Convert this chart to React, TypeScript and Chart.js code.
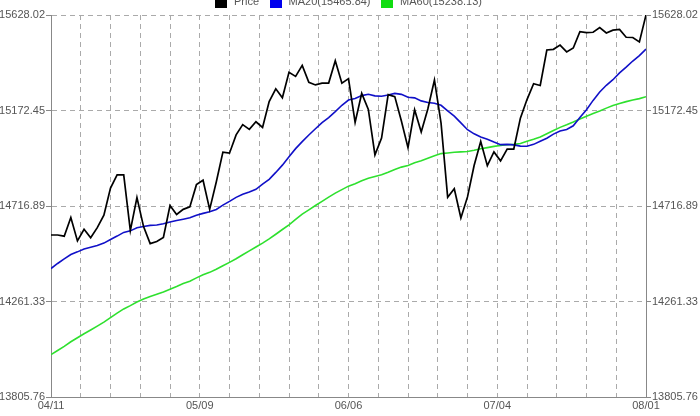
import React, { useEffect, useRef } from "react";
import { Chart, registerables } from "chart.js";

Chart.register(...registerables);

// ---------- data ----------
const xTickLabels = ["04/11", "05/09", "06/06", "07/04", "08/01"];
const yTickValues = [13805.76, 14261.33, 14716.89, 15172.45, 15628.02];
const seriesNames = ["Price", "MA20(15465.84)", "MA60(15238.13)"];

const price = [
  14578.54, 14578.54, 14572.85, 14662.01, 14550.35, 14606.11, 14565.25, 14613.48, 14673.46, 14802.24,
  14865.14, 14865.06, 14599.2, 14756.78, 14618.59, 14537.14, 14547.51, 14567.17, 14719.46, 14676.24,
  14700.8, 14712.55, 14818.75, 14839.8, 14700.95, 14831.58, 14973.96, 14968.89, 15056.2, 15105.12,
  15082.62, 15118.49, 15091.68, 15215.25, 15275.69, 15233.22, 15354.4, 15335.28, 15387.58, 15307.17,
  15294.5, 15303.1, 15303.1, 15409.39, 15302.8, 15324.53, 15115.57, 15254.03, 15177.54, 14960.59,
  15040.62, 15248.12, 15238.59, 15122.02, 14995.23, 15176.08, 15070.18, 15179.85, 15318.23, 15112.19,
  14758.32, 14799.4, 14659.56, 14760.31, 14910.14, 15024.49, 14909.6, 14974.96, 14932.41, 14988.55,
  14988.55, 15135.84, 15224.69, 15300.34, 15291.66, 15460.92, 15464.3, 15484.26, 15451.85, 15470.52,
  15548.54, 15543.74, 15545.55, 15567.74, 15542.24, 15555.61, 15558.83, 15521.97, 15520.59, 15499.54,
  15628.02,
];

const ma20 = [
  14418.3, 14442.7, 14465.0, 14485.4, 14498.1, 14511.9, 14520.3, 14528.6, 14539.8, 14557.1,
  14573.4, 14591.0, 14598.3, 14613.4, 14618.7, 14624.5, 14626.3, 14632.3, 14640.2, 14647.7,
  14653.8, 14660.5, 14672.8, 14681.7, 14689.3, 14700.6, 14721.0, 14738.8, 14758.0, 14773.1,
  14784.0, 14796.7, 14821.3, 14844.2, 14877.1, 14911.9, 14952.2, 14990.6, 15024.0, 15055.6,
  15085.3, 15114.8, 15139.0, 15167.4, 15197.5, 15222.2, 15229.3, 15243.5, 15249.6, 15242.4,
  15240.3, 15246.8, 15254.2, 15249.5, 15235.5, 15232.6, 15218.4, 15210.7, 15207.2, 15197.4,
  15170.6, 15145.4, 15113.2, 15080.8, 15061.1, 15046.1, 15035.8, 15021.8, 15009.5, 15010.9,
  15008.3, 15002.7, 15002.0, 15010.9, 15025.8, 15040.0, 15059.7, 15074.9, 15081.6, 15099.6,
  15139.1, 15176.4, 15220.7, 15261.1, 15292.7, 15319.3, 15351.7, 15379.1, 15408.5, 15434.1,
  15465.84,
];

const ma60 = [
  14008.2, 14027.3, 14047.1, 14069.3, 14088.6, 14107.6, 14125.5, 14143.9, 14162.9, 14184.4,
  14205.6, 14225.8, 14241.6, 14259.1, 14273.1, 14284.9, 14295.8, 14307.2, 14320.0, 14332.7,
  14346.7, 14358.4, 14374.1, 14388.4, 14400.3, 14415.1, 14431.5, 14448.1, 14465.4, 14484.1,
  14502.6, 14521.5, 14540.0, 14559.7, 14582.2, 14604.7, 14627.2, 14653.1, 14677.9, 14698.4,
  14719.1, 14739.3, 14758.9, 14778.2, 14794.9, 14811.5, 14823.5, 14837.0, 14849.1, 14857.5,
  14865.9, 14878.1, 14891.3, 14902.4, 14910.4, 14923.0, 14932.3, 14944.5, 14957.1, 14966.9,
  14969.9, 14973.5, 14975.0, 14976.6, 14982.6, 14989.6, 14995.3, 15001.4, 15005.7, 15008.8,
  15010.9, 15015.4, 15025.8, 15034.9, 15046.1, 15061.5, 15076.8, 15092.0, 15104.3, 15117.5,
  15131.6, 15145.5, 15157.6, 15169.7, 15183.8, 15195.8, 15205.6, 15214.8, 15222.5, 15229.1,
  15238.13,
];

// ---------- styling ----------
const FONT = '"Liberation Sans", Arial, Helvetica, sans-serif';
const TEXT_COLOR = "#555555";
const GRID_COLOR = "#aaaaaa";
const AXIS_COLOR = "#888888";
const GRID_DIVISIONS = 20;
const LABEL_EVERY = 5;

const legendPlugin = {
  id: "topLegend",
  afterDraw(chart: any) {
    const ctx = chart.ctx;
    const area = chart.chartArea;
    ctx.save();
    ctx.font = `11px ${FONT}`;
    ctx.textBaseline = "middle";
    const box = 12;
    const gap = 7;
    const spacing = 10.5;
    const items = chart.data.datasets.map((ds: any) => ({
      label: ds.label,
      color: ds.legendColor,
      w: ctx.measureText(ds.label).width,
    }));
    let total = 0;
    items.forEach((it: any, i: number) => {
      total += box + gap + it.w + (i < items.length - 1 ? spacing : 0);
    });
    let x = (area.left + area.right) / 2 - total / 2;
    const cy = 2;
    items.forEach((it: any) => {
      ctx.fillStyle = it.color;
      ctx.fillRect(Math.round(x), cy - box / 2, box, box);
      ctx.fillStyle = TEXT_COLOR;
      ctx.fillText(it.label, x + box + gap, cy);
      x += box + gap + it.w + spacing;
    });
    ctx.restore();
  },
};

export default function App() {
  const canvasRef = useRef<HTMLCanvasElement | null>(null);

  useEffect(() => {
    const canvas = canvasRef.current;
    if (!canvas) return;
    const n = price.length - 1;
    const toPts = (arr: number[]) => arr.map((v, i) => ({ x: i, y: v }));
    const xTicks: number[] = [];
    for (let k = 0; k <= GRID_DIVISIONS; k++) xTicks.push((n * k) / GRID_DIVISIONS);

    const chart = new Chart(canvas, {
      type: "line",
      data: {
        datasets: [
          {
            label: seriesNames[0],
            data: toPts(price),
            borderColor: "#000000",
            legendColor: "#000000",
            borderWidth: 1.7,
            pointRadius: 0,
            tension: 0,
          } as any,
          {
            label: seriesNames[1],
            data: toPts(ma20),
            borderColor: "#1010c8",
            legendColor: "#0000ee",
            borderWidth: 1.6,
            pointRadius: 0,
            tension: 0,
          } as any,
          {
            label: seriesNames[2],
            data: toPts(ma60),
            borderColor: "#2ee02e",
            legendColor: "#11dd11",
            borderWidth: 1.6,
            pointRadius: 0,
            tension: 0,
          } as any,
        ],
      },
      options: {
        animation: false,
        responsive: false,
        maintainAspectRatio: false,
        layout: { padding: { top: 15, left: 0, right: 0, bottom: 0 } },
        plugins: {
          legend: { display: false },
          tooltip: { enabled: false },
        },
        scales: {
          x: {
            type: "linear",
            min: 0,
            max: n,
            afterBuildTicks: (scale: any) => {
              scale.ticks = xTicks.map((v) => ({ value: v }));
            },
            afterFit: (scale: any) => {
              scale.height = 19;
            },
            ticks: {
              autoSkip: false,
              maxRotation: 0,
              minRotation: 0,
              padding: 2,
              color: TEXT_COLOR,
              font: { family: FONT, size: 11 },
              callback: (_v: any, idx: number) =>
                idx % LABEL_EVERY === 0 ? xTickLabels[idx / LABEL_EVERY] : "",
            },
            grid: {
              color: GRID_COLOR,
              lineWidth: 1,
              drawTicks: false,
            },
            border: { display: true, color: AXIS_COLOR, width: 1, dash: [5, 4] },
          },
          y: {
            type: "linear",
            position: "left",
            min: yTickValues[0],
            max: yTickValues[yTickValues.length - 1],
            afterBuildTicks: (scale: any) => {
              scale.ticks = yTickValues.map((v) => ({ value: v }));
            },
            afterFit: (scale: any) => {
              scale.width = 51;
            },
            ticks: {
              padding: 1,
              color: TEXT_COLOR,
              font: { family: FONT, size: 11 },
              callback: (v: any) => Number(v).toFixed(2),
            },
            grid: {
              color: GRID_COLOR,
              lineWidth: 1,
              drawTicks: true,
              tickLength: 5,
              tickColor: AXIS_COLOR,
            },
            border: { display: true, color: AXIS_COLOR, width: 1, dash: [5, 4] },
          },
          y2: {
            type: "linear",
            position: "right",
            min: yTickValues[0],
            max: yTickValues[yTickValues.length - 1],
            afterBuildTicks: (scale: any) => {
              scale.ticks = yTickValues.map((v) => ({ value: v }));
            },
            afterFit: (scale: any) => {
              scale.width = 54;
            },
            ticks: {
              padding: 1,
              color: TEXT_COLOR,
              font: { family: FONT, size: 11 },
              callback: (v: any) => Number(v).toFixed(2),
            },
            grid: {
              drawOnChartArea: false,
              drawTicks: true,
              tickLength: 5,
              tickColor: AXIS_COLOR,
              color: AXIS_COLOR,
            },
            border: { display: true, color: AXIS_COLOR, width: 1 },
          },
        },
      } as any,
      plugins: [legendPlugin],
    });

    return () => chart.destroy();
  }, []);

  return (
    <div style={{ position: "fixed", left: 0, top: 0, width: 700, height: 416, background: "#ffffff" }}>
      <canvas ref={canvasRef} width={700} height={416} style={{ display: "block", width: 700, height: 416 }} />
    </div>
  );
}
